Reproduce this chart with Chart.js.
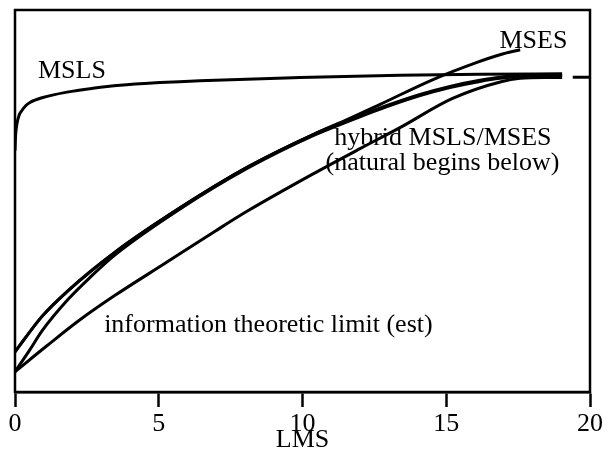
<!DOCTYPE html>
<html>
<head>
<meta charset="utf-8">
<script src="https://cdn.jsdelivr.net/npm/chart.js@4/dist/chart.umd.min.js"></script>
<style>
  html, body { margin: 0; padding: 0; background: #fff; }
  #wrap { width: 606px; height: 461px; }
</style>
</head>
<body>
<div id="wrap"><canvas id="grafico"></canvas></div>
<script>
// valores (x = LMS, y = escala sin unidades 0..100)
const xTicks = [0, 5, 10, 15, 20];

const mslsX = [0, 0.02, 0.07, 0.14, 0.24, 0.38, 0.52, 0.97, 1.81, 2.71, 3.65, 5.04, 6.43, 9.91, 13.39, 16.17, 19.03];
const mslsY = [63.2, 67.1, 70.3, 72.4, 73.7, 75.0, 75.8, 77.1, 78.5, 79.5, 80.3, 81.0, 81.5, 82.3, 82.9, 83.2, 83.3];

const msesX = [0, 0.94, 1.84, 3.48, 5.74, 8.07, 10.37, 11.55, 12.70, 14.54, 16.07, 16.87, 17.57];
const msesY = [10.5, 19.8, 26.5, 36.6, 48.2, 58.8, 67.4, 71.3, 75.3, 81.8, 86.3, 88.3, 89.6];

const hybridX = [0, 0.94, 1.84, 3.48, 5.74, 8.07, 10.37, 11.55, 12.94, 14.09, 15.13, 16.17, 16.87, 17.91, 19.03];
const hybridY = [10.5, 19.8, 26.5, 36.6, 48.2, 58.8, 67.4, 71.0, 75.0, 77.9, 80.0, 81.6, 82.4, 82.9, 82.9];

const naturalX = [0, 0.52, 0.94, 1.84, 2.61, 3.48, 5.74, 8.07, 10.37, 11.55, 12.94, 14.09, 15.13, 16.17, 16.87, 17.91, 19.03];
const naturalY = [5.3, 11.1, 16.0, 24.2, 30.0, 35.9, 47.9, 58.5, 67.1, 70.7, 74.7, 77.6, 79.7, 81.3, 82.1, 82.7, 82.7];

const limitX = [0, 1.11, 2.26, 3.48, 5.22, 6.96, 8.07, 10.37, 12.0, 13.39, 15.2, 16.94, 17.57, 18.43, 19.03];
const limitY = [5.3, 12.1, 18.9, 25.3, 33.7, 42.1, 47.3, 57.1, 63.7, 69.2, 76.8, 81.3, 82.1, 82.3, 82.3];

const marcaX = [19.4, 20];
const marcaY = [82.4, 82.4];

const etiquetas = ['MSLS', 'MSES', 'hybrid MSLS/MSES', '(natural begins below)', 'information theoretic limit (est)'];
const tituloX = 'LMS';

// posiciones de las etiquetas (LMS, valor) - esquina izquierda, linea base
const posEtiquetas = [[0.8, 82.1], [16.85, 90.0], [11.1, 64.6], [10.8, 58.0], [3.1, 15.8]];

const fuente = '"Liberation Serif", "Times New Roman", Times, serif';

const puntos = (xs, ys) => xs.map((x, i) => ({ x: x, y: ys[i] }));

const serie = (nombre, xs, ys) => ({
    label: nombre,
    data: puntos(xs, ys),
    borderColor: '#000',
    borderWidth: 3,
    pointRadius: 0,
    fill: false,
    cubicInterpolationMode: 'monotone'
});

const textos = {
    id: 'textos',
    afterDatasetsDraw(chart) {
        const ctx = chart.ctx;
        const sx = chart.scales.x, sy = chart.scales.y;
        const area = chart.chartArea;
        ctx.save();
        // marco
        ctx.strokeStyle = '#000';
        ctx.lineWidth = 2.5;
        ctx.strokeRect(area.left, area.top, area.right - area.left, area.bottom - area.top);
        ctx.fillStyle = '#000';
        ctx.font = '26px ' + fuente;
        ctx.textBaseline = 'alphabetic';
        ctx.textAlign = 'left';
        etiquetas.forEach((t, i) => {
            const p = posEtiquetas[i];
            ctx.fillText(t, sx.getPixelForValue(p[0]), sy.getPixelForValue(p[1]));
        });
        ctx.restore();
    }
};

const ctxGrafico = document.getElementById('grafico').getContext('2d');
const grafico = new Chart(ctxGrafico, {
    type: 'line',
    data: {
        datasets: [
            serie('MSLS', mslsX, mslsY),
            serie('MSES', msesX, msesY),
            serie('hybrid MSLS/MSES', hybridX, hybridY),
            serie('natural', naturalX, naturalY),
            serie('information theoretic limit (est)', limitX, limitY),
            serie('marca', marcaX, marcaY)
        ]
    },
    plugins: [textos],
    options: {
        responsive: true,
        maintainAspectRatio: false,
        animation: false,
        layout: { padding: { left: 15, top: 10, right: 16, bottom: 8 } },
        plugins: {
            legend: { display: false },
            tooltip: { enabled: false }
        },
        scales: {
            x: {
                type: 'linear',
                min: 0,
                max: 20,
                afterBuildTicks: (eje) => { eje.ticks = xTicks.map(v => ({ value: v })); },
                afterFit: (eje) => { eje.paddingRight = 0; },
                ticks: {
                    color: '#000',
                    padding: 4,
                    maxRotation: 0,
                    autoSkip: false,
                    font: { family: fuente, size: 26, lineHeight: 1 }
                },
                grid: {
                    drawOnChartArea: false,
                    drawTicks: true,
                    tickLength: 15,
                    tickWidth: 2.5,
                    tickColor: '#000'
                },
                border: { display: true, color: '#000', width: 2.5 },
                title: {
                    display: true,
                    text: tituloX,
                    color: '#000',
                    padding: { top: -14, bottom: 0 },
                    font: { family: fuente, size: 26, lineHeight: 1 }
                }
            },
            y: {
                type: 'linear',
                min: 0,
                max: 100,
                display: false
            }
        }
    }
});
</script>
</body>
</html>
